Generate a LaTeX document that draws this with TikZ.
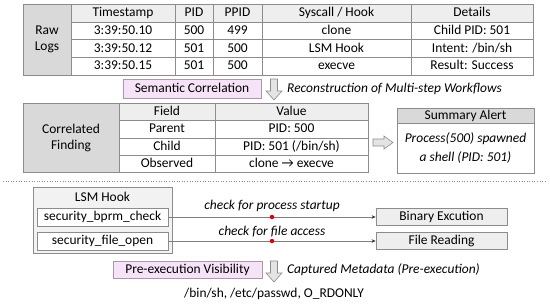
\documentclass[tikz,border=0pt]{standalone}
\usepackage{fontspec}
\setmainfont{Carlito}
\usetikzlibrary{arrows.meta}
\definecolor{bgray}{HTML}{8C8C8C}
\definecolor{cellgray}{HTML}{D9D9D9}
\definecolor{headgray}{HTML}{EEEEEE}
\definecolor{boxgray}{HTML}{F2F2F2}
\definecolor{pinkfill}{HTML}{F7E3F7}
\definecolor{pinkdraw}{HTML}{A898A8}
\definecolor{arrowfill}{HTML}{E4E4E4}
\definecolor{linegray}{HTML}{7F7F7F}
\definecolor{dotred}{HTML}{E00000}
\definecolor{tipgray}{HTML}{333333}
\begin{document}
\begin{tikzpicture}[x=1bp,y=-1bp,
  every node/.style={font=\fontsize{13.5}{16}\selectfont},
  tc/.style={draw=bgray, line width=0.7bp, inner sep=0pt, minimum height=17.6bp, text height=9.5bp, text depth=2.5bp},
  hd/.style={tc, fill=headgray},
  sc/.style={draw=bgray, line width=0.7bp, inner sep=0pt, minimum height=17.35bp, text height=9.5bp, text depth=2.5bp},
  sh/.style={sc, fill=headgray},
  graycell/.style={draw=bgray, line width=0.7bp, fill=cellgray, inner sep=0pt, align=center},
  pinkbox/.style={draw=pinkdraw, line width=0.7bp, fill=pinkfill, inner sep=0pt, text height=9.5bp, text depth=2.5bp},
  blockarrow/.style={draw=bgray, line width=0.6bp, fill=arrowfill},
  hookbox/.style={draw=bgray, line width=0.7bp, fill=white, inner sep=0pt, minimum width=131bp, minimum height=18bp, text height=9.5bp, text depth=2.5bp},
  targetbox/.style={draw=bgray, line width=0.7bp, fill=headgray, inner sep=0pt, minimum width=131bp, minimum height=17bp, text height=9.5bp, text depth=2.5bp},
  conn/.style={draw=linegray, line width=0.7bp, -{Stealth[length=4bp,width=3.5bp,color=tipgray]}},
  reddot/.style={circle, fill=dotred, inner sep=0pt, minimum size=4.5bp},
  note/.style={font=\fontsize{13.5}{16}\selectfont\itshape, inner sep=0pt}
]
\useasboundingbox (0,0) rectangle (550,305);

% ---------- Raw logs table ----------
\node[graycell, minimum width=48bp, minimum height=70.4bp] (rawlogs) at (47,39.7) {Raw\\Logs};
% header
\node[hd, minimum width=104bp] (h1) at (123,13.3) {Timestamp};
\node[hd, minimum width=38bp]  (h2) at (194,13.3) {PID};
\node[hd, minimum width=49bp]  (h3) at (237.5,13.3) {PPID};
\node[hd, minimum width=149bp] (h4) at (336.5,13.3) {Syscall / Hook};
\node[hd, minimum width=122bp] (h5) at (472,13.3) {Details};
% row 1
\node[tc, minimum width=104bp] (r1c1) at (123,30.9) {3:39:50.10};
\node[tc, minimum width=38bp]  (r1c2) at (194,30.9) {500};
\node[tc, minimum width=49bp]  (r1c3) at (237.5,30.9) {499};
\node[tc, minimum width=149bp] (r1c4) at (336.5,30.9) {clone};
\node[tc, minimum width=122bp] (r1c5) at (472,30.9) {Child PID: 501};
% row 2
\node[tc, minimum width=104bp] (r2c1) at (123,48.5) {3:39:50.12};
\node[tc, minimum width=38bp]  (r2c2) at (194,48.5) {501};
\node[tc, minimum width=49bp]  (r2c3) at (237.5,48.5) {500};
\node[tc, minimum width=149bp] (r2c4) at (336.5,48.5) {LSM Hook};
\node[tc, minimum width=122bp] (r2c5) at (472,48.5) {Intent: /bin/sh};
% row 3
\node[tc, minimum width=104bp] (r3c1) at (123,66.1) {3:39:50.15};
\node[tc, minimum width=38bp]  (r3c2) at (194,66.1) {501};
\node[tc, minimum width=49bp]  (r3c3) at (237.5,66.1) {500};
\node[tc, minimum width=149bp] (r3c4) at (336.5,66.1) {execve};
\node[tc, minimum width=122bp] (r3c5) at (472,66.1) {Result: Success};

% ---------- Semantic correlation ----------
\node[pinkbox, minimum width=138bp, minimum height=19bp] (semcorr) at (192,88.5) {Semantic Correlation};
\draw[blockarrow] (270.5,79) -- (277.5,79) -- (277.5,91) -- (282,91) -- (274,100) -- (266,91) -- (270.5,91) -- cycle;
\node[note, anchor=west] (recon) at (287,88.5) {Reconstruction of Multi-step Workflows};

% ---------- Correlated finding table ----------
\node[graycell, minimum width=96bp, minimum height=69.4bp] (corrfind) at (71,138) {Correlated\\Finding};
\node[sh, minimum width=96bp]  (fh1) at (167,112) {Field};
\node[sh, minimum width=153bp] (fh2) at (291.5,112) {Value};
\node[sc, minimum width=96bp]  (f1a) at (167,129.35) {Parent};
\node[sc, minimum width=153bp] (f1b) at (291.5,129.35) {PID: 500};
\node[sc, minimum width=96bp]  (f2a) at (167,146.7) {Child};
\node[sc, minimum width=153bp] (f2b) at (291.5,146.7) {PID: 501 (/bin/sh)};
\node[sc, minimum width=96bp]  (f3a) at (167,164.05) {Observed};
\node[sc, minimum width=153bp] (f3b) at (291.5,164.05) {clone → execve};

% right block arrow
\draw[blockarrow] (373,139) -- (384,139) -- (384,136) -- (393,142.5) -- (384,149) -- (384,146) -- (373,146) -- cycle;

% ---------- Summary alert ----------
\node[draw=bgray, line width=0.7bp, fill=cellgray, inner sep=0pt, minimum width=137bp, minimum height=15bp, text height=9.5bp, text depth=2.5bp] (sumhead) at (465.5,115.5) {Summary Alert};
\node[draw=bgray, line width=0.7bp, fill=white, inner sep=0pt, minimum width=137bp, minimum height=50bp, align=center, font=\fontsize{13.5}{19}\selectfont\itshape] (sumbody) at (465.5,148) {Process(500) spawned\\a shell (PID: 501)};

% ---------- separator ----------
\draw[bgray, line width=0.6bp, dotted] (3,181.5) -- (545,181.5);

% ---------- LSM hook ----------
\node[draw=bgray, line width=0.7bp, fill=boxgray, inner sep=0pt, minimum width=139bp, minimum height=66bp] (lsmbox) at (102.5,220) {};
\node[inner sep=0pt] (lsmtitle) at (102.5,196.5) {LSM Hook};
\node[hookbox] (bprm) at (102.5,217) {security\_bprm\_check};
\node[hookbox] (fopen) at (102.5,241) {security\_file\_open};

\node[targetbox] (binexec) at (441.5,216.5) {Binary Excution};
\node[targetbox] (fileread) at (441.5,240.5) {File Reading};

\draw[conn] (bprm.east) -- (binexec.west |- bprm.east)
  node[pos=0.5, reddot] (dot1) {}
  node[pos=0.5, note, above=5bp] (lab1) {check for process startup};
\draw[conn] (fopen.east) -- (fileread.west |- fopen.east)
  node[pos=0.5, reddot] (dot2) {}
  node[pos=0.5, note, above=4bp] (lab2) {check for file access};

% ---------- pre-execution ----------
\node[pinkbox, minimum width=149bp, minimum height=17bp] (preexec) at (187.5,270) {Pre-execution Visibility};
\draw[blockarrow] (270.5,261) -- (277.5,261) -- (277.5,273) -- (282,273) -- (274,282) -- (266,273) -- (270.5,273) -- cycle;
\node[note, anchor=west] (captured) at (287,270) {Captured Metadata (Pre-execution)};
\node[inner sep=0pt] (meta) at (274,293.5) {/bin/sh, /etc/passwd, O\_RDONLY};
\end{tikzpicture}
\end{document}
